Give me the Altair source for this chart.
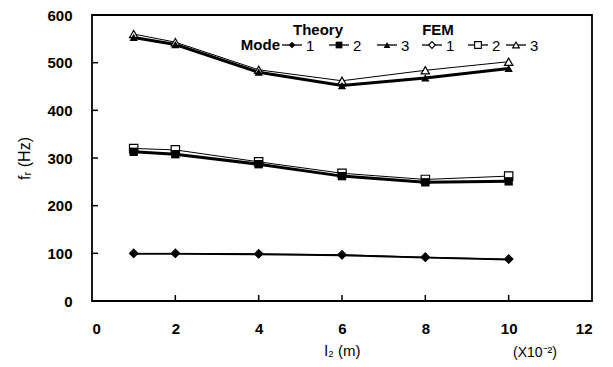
import altair as alt
import pandas as pd

# ---- data ----
x_vals = [1, 2, 4, 6, 8, 10]
theory_m1 = [99, 99, 98, 96, 91, 87]
theory_m2 = [313, 308, 287, 262, 249, 251]
theory_m3 = [553, 538, 480, 452, 468, 488]
fem_m1 = [100, 100, 99, 97, 92, 88]
fem_m2 = [320, 317, 292, 268, 255, 262]
fem_m3 = [560, 543, 485, 462, 484, 502]

x_ticks = [0, 2, 4, 6, 8, 10, 12]
y_ticks = [0, 100, 200, 300, 400, 500, 600]
legend_modes = ["1", "2", "3", "1", "2", "3"]
legend_methods = ["Theory", "Theory", "Theory", "FEM", "FEM", "FEM"]

rows = []
for method, series in [("Theory", [theory_m1, theory_m2, theory_m3]),
                       ("FEM", [fem_m1, fem_m2, fem_m3])]:
    for m, vals in enumerate(series, start=1):
        for xv, yv in zip(x_vals, vals):
            rows.append({"x": xv, "f": yv, "method": method, "mode": m,
                         "key": f"{method}{m}"})
df = pd.DataFrame(rows)

W, H = 500, 286
FONT = "Liberation Sans"
shape_map = {1: "diamond", 2: "square", 3: "triangle-up"}
df["shape"] = df["mode"].map(shape_map)

xs = alt.Scale(domain=[0, 12], nice=False)
ys = alt.Scale(domain=[0, 600], nice=False)

base = alt.Chart(df)

xenc = alt.X("x:Q", scale=xs,
             axis=alt.Axis(values=x_ticks, grid=False, ticks=False, domain=False,
                           labelFont=FONT, labelFontWeight="bold", labelFontSize=15,
                           labelColor="black", labelPadding=20,
                           title="l₂ (m)", titleFont=FONT, titleFontSize=15,
                           titleFontWeight="normal",
                           titleColor="black", titlePadding=7))
yenc = alt.Y("f:Q", scale=ys,
             axis=alt.Axis(values=y_ticks, grid=False, ticks=False, domain=False,
                           labelFont=FONT, labelFontWeight="bold", labelFontSize=15,
                           labelColor="black", labelPadding=20,
                           title="fᵣ (Hz)", titleFont=FONT, titleFontSize=16,
                           titleFontWeight="normal", titleColor="black",
                           titlePadding=14))

theory_line1 = base.transform_filter("datum.method == 'Theory' && datum.mode == 1").mark_line(
    color="black", strokeWidth=1.8).encode(x=xenc, y=yenc, detail="key:N")
theory_lines = base.transform_filter("datum.method == 'Theory' && datum.mode > 1").mark_line(
    color="black", strokeWidth=3).encode(x="x:Q", y="f:Q", detail="key:N")
fem_lines = base.transform_filter("datum.method == 'FEM'").mark_line(
    color="black", strokeWidth=1).encode(x="x:Q", y="f:Q", detail="key:N")

shape_scale = alt.Scale(domain=["diamond", "square", "triangle-up"],
                        range=["diamond", "square", "triangle-up"])
fem_pts = base.transform_filter("datum.method == 'FEM'").mark_point(
    filled=True, fill="white", stroke="black", strokeWidth=1.2, size=70, opacity=1).encode(
    x="x:Q", y="f:Q", shape=alt.Shape("shape:N", scale=shape_scale, legend=None))
theory_pts = base.transform_filter("datum.method == 'Theory'").mark_point(
    filled=True, color="black", size=70, opacity=1).encode(
    x="x:Q", y="f:Q", shape=alt.Shape("shape:N", scale=shape_scale, legend=None))

# inside tick marks
tick_df_x = pd.DataFrame({"t": x_ticks[1:-1]})
xticks = alt.Chart(tick_df_x).mark_rule(color="black", strokeWidth=1.5).encode(
    x=alt.X("t:Q", scale=xs), y=alt.value(H), y2=alt.value(H - 6))
tick_df_y = pd.DataFrame({"t": y_ticks[1:-1]})
yticks = alt.Chart(tick_df_y).mark_rule(color="black", strokeWidth=1.5).encode(
    y=alt.Y("t:Q", scale=ys), x=alt.value(0), x2=alt.value(6))

# (X10^-2) note
note = alt.Chart(pd.DataFrame({"t": ["(X10⁻²)"]})).mark_text(
    font=FONT, fontSize=14, color="black", align="center", baseline="middle").encode(
    text="t:N", x=alt.value(443), y=alt.value(338))

# manual legend
leg_x = [200, 247, 295, 340, 386, 424]
leg_df = pd.DataFrame({
    "px": leg_x,
    "shape": [shape_map[int(m)] for m in legend_modes],
    "method": legend_methods,
    "label": legend_modes,
})
leg_df["lx1"] = leg_df["px"] - 10
leg_df["lx2"] = leg_df["px"] + 10
leg_df["tx"] = leg_df["px"] + 14
LY = 30
leg_lines = alt.Chart(leg_df).mark_rule(color="black", strokeWidth=1.3).encode(
    x=alt.X("lx1:Q", scale=None), x2="lx2:Q", y=alt.value(LY))
leg_tpts = alt.Chart(leg_df).transform_filter("datum.method == 'Theory'").mark_point(
    filled=True, color="black", size=45, opacity=1).encode(
    x=alt.X("px:Q", scale=None), y=alt.value(LY),
    shape=alt.Shape("shape:N", scale=shape_scale, legend=None))
leg_fpts = alt.Chart(leg_df).transform_filter("datum.method == 'FEM'").mark_point(
    filled=True, fill="white", stroke="black", strokeWidth=1.1, size=45, opacity=1).encode(
    x=alt.X("px:Q", scale=None), y=alt.value(LY),
    shape=alt.Shape("shape:N", scale=shape_scale, legend=None))
leg_text = alt.Chart(leg_df).mark_text(
    font=FONT, fontSize=15, color="black", align="left", baseline="middle").encode(
    x=alt.X("tx:Q", scale=None), y=alt.value(LY + 1), text="label:N")

head_df = pd.DataFrame({"t": ["Theory", "FEM", "Mode"],
                        "hx": [226, 346, 188], "hy": [15, 15, 30],
                        "al": ["center", "center", "right"]})
heads_c = alt.Chart(head_df).transform_filter("datum.al == 'center'").mark_text(
    font=FONT, fontSize=15, fontWeight="bold", color="black", align="center",
    baseline="middle").encode(x=alt.X("hx:Q", scale=None), y=alt.Y("hy:Q", scale=None), text="t:N")
heads_r = alt.Chart(head_df).transform_filter("datum.al == 'right'").mark_text(
    font=FONT, fontSize=15, fontWeight="bold", color="black", align="right",
    baseline="middle").encode(x=alt.X("hx:Q", scale=None), y=alt.Y("hy:Q", scale=None), text="t:N")

chart = alt.layer(
    theory_line1, theory_lines, fem_lines, fem_pts, theory_pts,
    xticks, yticks, note, leg_lines, leg_tpts, leg_fpts, leg_text, heads_c, heads_r
).properties(
    width=W, height=H,
    autosize=alt.AutoSizeParams(type="none"),
    padding={"left": 84, "top": 7, "right": 10, "bottom": 62},
    background="white",
).configure_view(stroke="black", strokeWidth=1.8)

chart.save("out.html", embed_options={"renderer": "svg", "actions": False})
